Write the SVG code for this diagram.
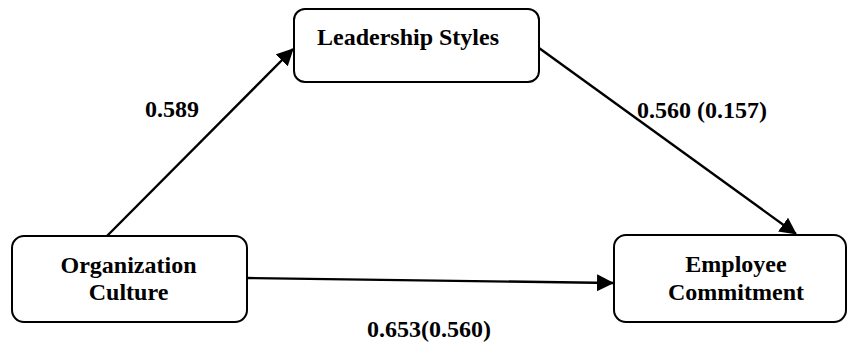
<svg xmlns="http://www.w3.org/2000/svg" width="847" height="343" viewBox="0 0 847 343">
  <style>
    .box { fill: #ffffff; stroke: #000000; stroke-width: 2; }
    .lbl { font-family: "Liberation Serif", "Times New Roman", serif; font-weight: bold; font-size: 24px; fill: #000000; }
    .mid { text-anchor: middle; }
    .edge { stroke: #000000; stroke-width: 2.4; fill: none; marker-end: url(#arrow); }
  </style>
  <defs>
    <marker id="arrow" viewBox="0 0 17 17" refX="16" refY="8.5" markerWidth="17" markerHeight="17" markerUnits="userSpaceOnUse" orient="auto">
      <path d="M0,0 L17,8.5 L0,17 Z" fill="#000000"/>
    </marker>
  </defs>
  <rect width="847" height="343" fill="#ffffff"/>

  <!-- connectors -->
  <g id="connectors">
    <line class="edge" x1="107" y1="236" x2="293" y2="49"/>
    <line class="edge" x1="539" y1="48" x2="796" y2="234"/>
    <line class="edge" x1="247" y1="278" x2="613" y2="283"/>
  </g>

  <!-- path coefficients -->
  <g id="edge-labels">
    <text class="lbl" x="145" y="117">0.589</text>
    <text class="lbl" x="637" y="118">0.560 (0.157)</text>
    <text class="lbl" x="367" y="337">0.653(0.560)</text>
  </g>

  <g id="leadership-styles">
    <rect class="box" x="294" y="9" width="245" height="73" rx="11" ry="11"/>
    <text class="lbl mid" x="408" y="45">Leadership Styles</text>
  </g>

  <g id="organization-culture">
    <rect class="box" x="12" y="236" width="235" height="86" rx="12" ry="12"/>
    <text class="lbl mid" x="128.5" y="273">Organization</text>
    <text class="lbl mid" x="128.5" y="300">Culture</text>
  </g>

  <g id="employee-commitment">
    <rect class="box" x="614" y="235" width="232" height="87" rx="12" ry="12"/>
    <text class="lbl mid" x="736" y="272">Employee</text>
    <text class="lbl mid" x="736" y="300">Commitment</text>
  </g>
</svg>
